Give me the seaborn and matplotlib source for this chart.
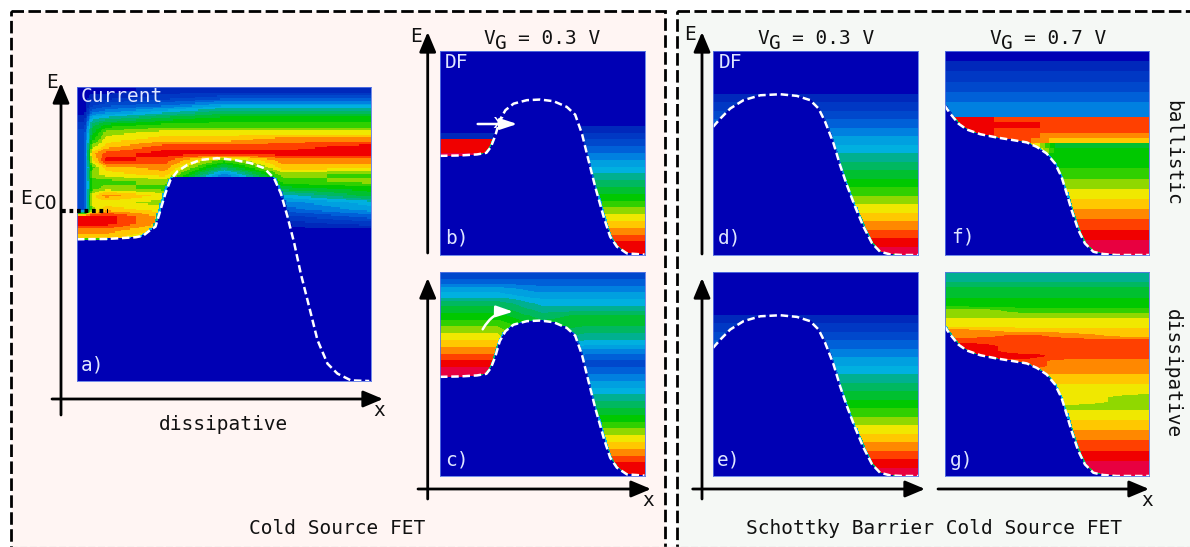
import numpy as np
import seaborn as sns
import matplotlib.pyplot as plt
from matplotlib.colors import ListedColormap
from matplotlib.patches import Rectangle

# colour steps of the distribution maps, low to high
band_colors = ['#0000b4', '#0028bb', '#0038c4', '#0048cc', '#0060d8', '#0080e0', '#00a0e0', '#00b0e0', '#00b090',
               '#00b860', '#00c030', '#00c800', '#30d000', '#90d800', '#f0e800', '#ffc800', '#ff8800', '#ff4000',
               '#f00000', '#e80040']

# band edges, x and E as fractions of the panel
a_edge_x = [0, .1, .2, .225, .25, .267, .284, .301, .318, .341, .375, .42, .477, .534, .591, .636, .67, .693, .716,
            .739, .761, .784, .818, .852, .886, .932, .994]
a_edge_e = [.482, .483, .489, .494, .514, .525, .582, .639, .684, .7125, .735, .752, .758, .752, .741, .724, .69,
            .639, .559, .468, .366, .275, .139, .059, .025, .002, 0]
a_dome_cap = 0.695

barrier_x = [0, .099, .181, .227, .249, .271, .292, .32, .36, .425, .49, .555, .62, .661, .694, .726, .759, .8, .832,
             .865, .914, 1.0]
barrier_e = [.486, .488, .493, .501, .53, .587, .661, .71, .742, .759, .762, .754, .726, .688, .595, .465, .334, .188,
             .09, .041, .008, .002]

schottky_x = [0, .036, .084, .149, .231, .328, .409, .474, .515, .547, .588, .62, .653, .693, .734, .776, .815, .864,
              .92, 1]
schottky_e = [.628, .669, .718, .759, .783, .788, .78, .759, .718, .653, .547, .44, .343, .237, .139, .057, .016, .003,
              0, 0]

on_x = [0, .028, .068, .109, .175, .255, .336, .401, .45, .498, .539, .571, .596, .62, .653, .685, .726, .774, .84, 1]
on_e = [.734, .693, .644, .615, .592, .576, .563, .552, .53, .498, .449, .383, .302, .22, .122, .057, .016, .005, 0, 0]

# energy-resolved levels, rows top to bottom, one list per x position
a_x = [.025, .05, .1, .3, .5, .7, 1.0]
a_0 = [0, 0, 0, 0, 1, 2, 3, 3, 3, 3, 3, 3, 3, 3, 3, 3, 3, 3, 18, 18, 16, 15] + [0] * 20
a_1 = [0, 1, 2, 4, 7, 9, 10, 11, 13, 15, 14, 12, 13, 12, 12, 14, 14, 13, 18, 18, 16, 15] + [0] * 20
a_2 = [0, 1, 3, 5, 8, 11, 13, 14, 15, 17, 18, 15, 14, 12, 13, 16, 14, 15, 18, 18, 16, 15] + [0] * 20
a_3 = [1, 2, 4, 7, 10, 12, 14, 15, 17, 18, 17, 16, 15, 13, 12, 14, 13, 14, 15, 15, 14, 13] + [0] * 20
a_4 = [1, 3, 6, 9, 11, 12, 14, 15, 17, 18, 12, 9, 5, 2, 0, 0, 0, 0, 0, 0, 0, 0] + [0] * 20
a_5 = [1, 3, 6, 9, 11, 12, 14, 16, 17, 18, 16, 15, 13, 12, 10, 7, 5, 4, 2, 1, 0, 0] + [0] * 20
a_6 = [1, 3, 6, 9, 11, 12, 14, 16, 18, 18, 16, 15, 12, 13, 11, 10, 7, 6, 4, 2, 0, 0] + [0] * 20

b_x = [.28, .72]
b_left = [0] * 12 + [1, 18, 18, 19] + [0] * 14
b_right = [0] * 11 + [1, 2, 3, 4, 5, 6, 7, 8, 9, 10, 11, 12, 13, 14, 15, 16, 17, 18, 18]

c_x = [.28, .5, .72]
c_left = [3, 4, 6, 7, 9, 10, 11, 12, 13, 14, 15, 16, 17, 18, 19, 19] + [19] * 14
c_mid = [3, 4, 5, 6, 7, 8, 9, 10, 10, 9, 8] + [8] * 19
c_right = [3, 4, 5, 6, 7, 8, 10, 10, 9, 8, 7, 5, 4, 3, 4, 5, 6, 7, 8, 9, 10, 11, 12, 13, 14, 15, 16, 17, 18, 18]

d_x = [0, 1]
d_levels = [0, 0, 0, 0, 0, 1, 2, 3, 4, 5, 6, 7, 8, 9, 10, 11, 12, 13, 14, 15, 16, 17, 18, 19]
e_levels = [0, 0, 0, 0, 0, 1, 2, 3, 4, 5, 6, 7, 8, 9, 10, 11, 12, 13, 14, 15, 16, 17, 18, 19]

f_x = [.1, .38, .55]
f_right = [0, 0, 1, 1, 2, 2, 3, 3, 4, 4, 5, 5, 5, 17, 17, 17, 16, 15, 10, 11, 11, 11, 11, 12, 12, 13, 13, 14, 14, 15,
           15, 16, 16, 17, 17, 18, 18, 19, 19, 19]
f_left = [0, 0, 1, 1, 2, 2, 3, 3, 4, 4, 5, 5, 5, 18, 18, 18, 18, 17, 17, 17] + f_right[20:]
f_mid = [0, 0, 1, 1, 2, 2, 3, 3, 4, 4, 5, 5, 5, 17, 18, 17, 17, 17, 17, 17] + f_right[20:]

g_x = [.12, .4, .6, 1]
g_near = [8, 8, 9, 10, 10, 11, 11, 12, 13, 14, 14, 15, 16, 17, 17, 17, 17, 16, 16, 16, 15, 15, 14, 14, 14, 14, 13, 14,
          14, 15, 15, 16, 16, 17, 17, 18, 18, 19, 19, 19]
g_far = [8, 8, 9, 10, 10, 11, 11, 12, 13, 14, 14, 15, 15, 17, 17, 17, 17, 16, 16, 16, 15, 15, 14, 14, 13, 13, 13, 14,
         14, 15, 15, 16, 16, 17, 17, 18, 18, 19, 19, 19]
g_left = [8, 8, 9, 10, 10, 11, 11, 13, 13, 14, 14, 16, 16, 17, 18, 18, 18, 17] + g_near[18:]
g_mid = [8, 8, 9, 10, 10, 11, 11, 12, 13, 14, 14, 15, 17, 17, 17, 17, 18, 17, 17] + g_near[19:]

# text
left_title = 'Cold Source FET'
right_title = 'Schottky Barrier Cold Source FET'

sns.set_theme(style='white')
plt.rcParams['font.family'] = ['DejaVu Sans Mono', 'DejaVu Sans']

W, H = 1190, 547
fig = plt.figure(figsize=(W / 100, H / 100), dpi=100, facecolor='white')
band_cmap = ListedColormap(band_colors)


def pixel_axes(zorder):
    ax = fig.add_axes([0, 0, 1, 1], zorder=zorder)
    ax.set_xlim(0, W)
    ax.set_ylim(H, 0)
    ax.axis('off')
    return ax


def level_map(col_x, columns, edge_x, edge_e, cap=None, smooth=False):
    # levels across x for each row, blanked below the band edge
    columns = np.array(columns, dtype=float)
    n_rows = columns.shape[1]
    factor = 240 // n_rows
    xs = (np.arange(200) + 0.5) / 200
    rows = np.array([np.interp(xs, col_x, columns[:, r]) for r in range(n_rows)])
    if smooth:
        fine = (np.arange(n_rows * factor) + 0.5) / factor - 0.5
        grid = np.array([np.interp(fine, np.arange(n_rows), rows[:, c]) for c in range(200)]).T
    else:
        grid = np.repeat(np.round(rows), factor, axis=0)
    energy = (1 - (np.arange(grid.shape[0]) + 0.5) / grid.shape[0])[:, None]
    floor = np.interp(xs, edge_x, edge_e)
    if cap is not None:
        floor = np.minimum(floor, cap)
    # thin dim strip along the steep walls of the edge
    high = np.maximum(np.interp(xs - 0.008, edge_x, edge_e), np.interp(xs + 0.008, edge_x, edge_e))
    if cap is not None:
        high = np.minimum(high, cap)
    high = np.maximum(high, floor)[None, :]
    grid = np.where(energy < high, grid * 0.5, grid)
    grid[energy < floor[None, :]] = 0
    return np.round(grid)


def draw_panel(box, col_x, columns, edge_x, edge_e, cap=None, smooth=False):
    left, top, right, bottom = box
    ax = fig.add_axes([left / W, 1 - bottom / H, (right - left) / W, (bottom - top) / H], zorder=2)
    grid = level_map(col_x, columns, edge_x, edge_e, cap, smooth)
    sns.heatmap(grid, ax=ax, cmap=band_cmap, vmin=-0.5, vmax=19.5, cbar=False, xticklabels=False, yticklabels=False)
    ax.plot(np.array(edge_x) * grid.shape[1], (1 - np.array(edge_e)) * grid.shape[0], color='white', lw=1.8,
            dashes=(3, 1.5), clip_on=False)
    for side in ax.spines.values():
        side.set_visible(True)
        side.set_color('#5a78e6')
        side.set_linewidth(0.6)
    return ax


back = pixel_axes(0)
back.add_patch(Rectangle((10.5, 10.5), 654, 560, facecolor='#fff5f3', edgecolor='black', lw=2, ls=(0, (4.5, 1.6))))
back.add_patch(Rectangle((676.5, 10.5), 560, 560, facecolor='#f5f8f5', edgecolor='black', lw=2, ls=(0, (4.5, 1.6))))
back.plot([10, 1190], [546.5, 546.5], color='#dddddd', lw=1, ls=(0, (5, 2)))

draw_panel((77, 87, 371, 381), a_x, [a_0, a_1, a_2, a_3, a_4, a_5, a_6], a_edge_x, a_edge_e, a_dome_cap, smooth=True)
draw_panel((440, 51, 644.5, 255), b_x, [b_left, b_right], barrier_x, barrier_e)
draw_panel((440, 272, 644.5, 476), c_x, [c_left, c_mid, c_right], barrier_x, barrier_e, smooth=True)
draw_panel((713, 51, 918, 255), d_x, [d_levels, d_levels], schottky_x, schottky_e)
draw_panel((713, 272, 918, 476), d_x, [e_levels, e_levels], schottky_x, schottky_e)
draw_panel((944.5, 51, 1149.5, 255), f_x, [f_left, f_mid, f_right], on_x, on_e)
draw_panel((944.5, 272, 1149.5, 476), g_x, [g_left, g_mid, g_near, g_far], on_x, on_e, smooth=True)

front = pixel_axes(3)


def axis_arrow(start, tip):
    front.annotate('', xy=tip, xytext=start, arrowprops=dict(arrowstyle='-|>,head_width=0.42,head_length=1.0',
                                                             color='black', lw=2, shrinkA=0, shrinkB=0))


def white_arrow(start, tip, rad=0.0):
    front.annotate('', xy=tip, xytext=start, arrowprops=dict(arrowstyle='-|>,head_width=0.28,head_length=0.85',
                                                             color='white', lw=1.8, shrinkA=0, shrinkB=0,
                                                             connectionstyle='arc3,rad=%g' % rad))


def label(x, y, s, color='#111111', **kw):
    kw.setdefault('ha', 'center')
    front.text(x, y, s, color=color, fontsize=14, va='center', **kw)


def gate_label(x, value):
    label(x + 6, 38, 'V')
    label(x + 18, 43.5, 'G')
    label(x + 35, 38, value, ha='left')


axis_arrow((61, 415), (61, 83))
axis_arrow((52, 399), (383, 399))
axis_arrow((427.7, 253), (427.7, 32))
axis_arrow((427.7, 499), (427.7, 278))
axis_arrow((418, 489), (651, 489))
axis_arrow((702, 254), (702, 32))
axis_arrow((702, 499), (702, 278))
axis_arrow((692.7, 489), (925, 489))
axis_arrow((938, 489), (1149, 489))

front.plot([62, 108], [211, 211], color='black', lw=3, ls=(0, (0.9, 0.9)))
white_arrow((477.7, 124), (517.3, 124))
label(498, 122, 'x', color='white')
white_arrow((482.7, 329.3), (513.3, 311.7), rad=-0.3)

label(51.5, 82, 'E')
label(415.5, 36, 'E')
label(690, 35, 'E')
label(26, 198, 'E')
label(45, 203.5, 'CO')
label(379, 411, 'x')
label(648, 500.7, 'x')
label(1147, 500.7, 'x')
label(223, 424, 'dissipative')
gate_label(483, '= 0.3 V')
gate_label(757, '= 0.3 V')
gate_label(989, '= 0.7 V')
label(1172.7, 152.5, 'ballistic', rotation=-90)
label(1172.7, 373.8, 'dissipative', rotation=-90)
label(337, 528, left_title)
label(934.5, 528, right_title)

soft = '#dfe6ff'
label(81, 97, 'Current', color=soft, ha='left')
label(445, 63, 'DF', color=soft, ha='left')
label(719, 63, 'DF', color=soft, ha='left')
label(81, 365, 'a)', color=soft, ha='left')
label(445, 238, 'b)', color=soft, ha='left')
label(445, 460, 'c)', color=soft, ha='left')
label(718, 238, 'd)', color=soft, ha='left')
label(717, 460, 'e)', color=soft, ha='left')
label(950.7, 237, 'f)', color=soft, ha='left')
label(950, 460, 'g)', color=soft, ha='left')

plt.savefig('out.png', dpi=100)
